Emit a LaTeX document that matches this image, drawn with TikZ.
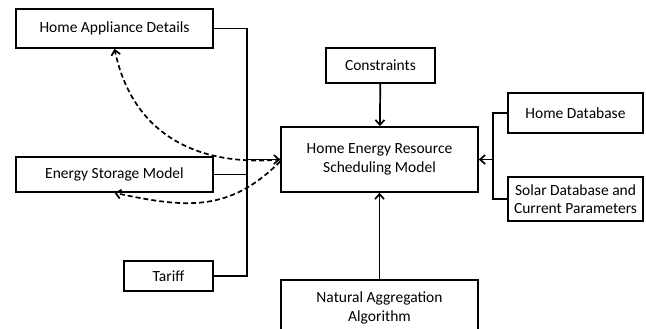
\documentclass[tikz,border=0pt]{standalone}
\usepackage{fontspec}
\setmainfont{Carlito}
\usetikzlibrary{arrows.meta, positioning}
\tikzset{
  blk/.style={rectangle, draw, line width=1.7pt, align=center,
              inner sep=0pt, font=\fontsize{15.5}{18.5}\selectfont},
  link/.style={line width=1.7pt},
  arr/.style={link, -{Straight Barb[length=5pt, width=9pt]}},
  feedback/.style={line width=1.7pt, dash pattern=on 5pt off 3pt,
                   -{Straight Barb[length=5pt, width=9pt]}},
}
\begin{document}
\begin{tikzpicture}[x=1pt, y=-1pt]

  \useasboundingbox (0,0) rectangle (646,329);

  % left inputs
  \node[blk, minimum width=197pt, minimum height=39pt] (appl) at (114.5,28.5) {Home Appliance Details};
  \node[blk, minimum width=197pt, minimum height=35pt] (stor) at (114.5,174.5) {Energy Storage Model};
  \node[blk, minimum width=89pt, minimum height=30pt] (tariff) at (168.5,276) {Tariff};

  % centre
  \node[blk, minimum width=109pt, minimum height=35pt] (cons) at (380.5,65.5) {Constraints};
  \node[blk, minimum width=197pt, minimum height=65pt] (hers) at (379.5,159.5)
    {Home Energy Resource\\Scheduling Model};
  \node[blk, minimum width=197pt, minimum height=56pt] (naa) at (379.5,308)
    {Natural Aggregation\\Algorithm};

  % right inputs
  \node[blk, minimum width=135pt, minimum height=40pt] (hdb) at (575.5,113) {Home Database};
  \node[blk, minimum width=135pt, minimum height=44pt] (sdb) at (575.5,199)
    {Solar Database and\\Current Parameters};

  \coordinate (lbus) at (247,159.5);
  \coordinate (rbus) at (493,159.5);

  \draw[link] (appl.east) -| (lbus);
  \draw[link] (tariff.east) -| (lbus);
  \draw[link] (stor.east) -- (stor.east -| lbus);
  \draw[arr] (lbus) -- (hers.west);

  \draw[link] (hdb.west) -| (rbus);
  \draw[link] (sdb.west) -| (rbus);
  \draw[arr] (rbus) -- (hers.east);

  \draw[arr] (cons) -- (hers);
  \draw[arr] (naa) -- (hers);

  % feedback
  \draw[feedback] (hers.west) to[out=185, in=-78, looseness=1.1] (appl.south);
  \draw[feedback] ([yshift=-2pt]hers.west) to[out=225, in=-12, looseness=1.1] (stor.south);

\end{tikzpicture}
\end{document}
